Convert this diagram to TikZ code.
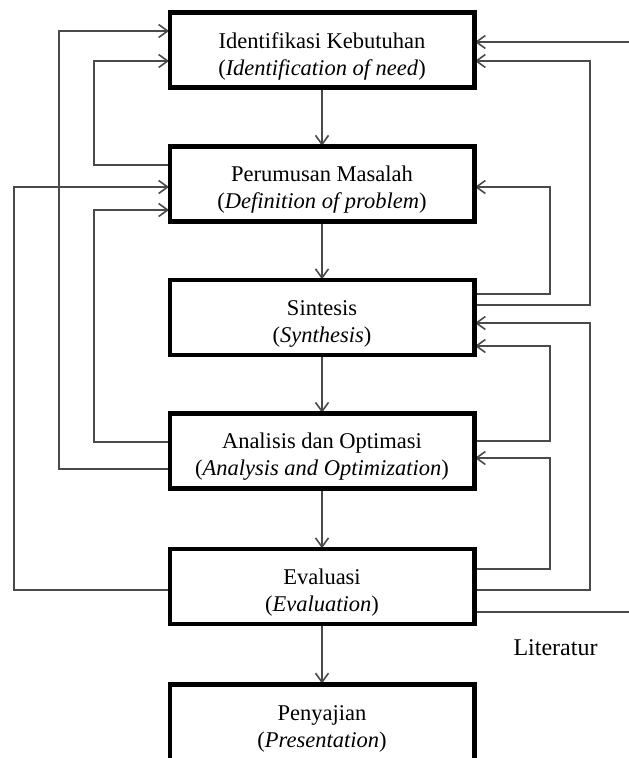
\documentclass[tikz,border=0pt]{standalone}
\usepackage{fontspec}
\setmainfont{Liberation Serif}
\usetikzlibrary{arrows.meta}
\definecolor{ln}{HTML}{4A4A4A}
\tikzset{
  box/.style={draw=black, line width=3pt, minimum width=303pt, minimum height=73.5pt,
    inner sep=0pt, fill=white},
  txt/.style={align=center, inner sep=0pt, font=\fontsize{22.5}{27}\selectfont},
  fb/.style={draw=ln, line width=1.7pt},
  fba/.style={fb, -{Straight Barb[length=9pt,width=13pt,line width=1.6pt]}},
}
\begin{document}
\begin{tikzpicture}[x=1pt,y=-1pt]
\useasboundingbox (0,0) rectangle (629,758);
\fill[white] (0,0) rectangle (629,758);
% boxes
\node[box] (b1) at (322,50) {};
\node[box] (b2) at (322,184) {};
\node[box] (b3) at (322,317.5) {};
\node[box] (b4) at (322,451) {};
\node[box] (b5) at (322,586.5) {};
\node[box, minimum height=80pt] (b6) at (322,725) {};
% straight flow
\draw[fba] (b1) -- (b2);
\draw[fba] (b2) -- (b3);
\draw[fba] (b3) -- (b4);
\draw[fba] (b4) -- (b5);
\draw[fba] (b5) -- (b6);
% left feedback
\draw[fba] (b4.west |- 0,469) -- (59,469) -- (59,31) -- (b1.west |- 0,31);
\draw[fba] (b2.west |- 0,165) -- (94,165) -- (94,61) -- (b1.west |- 0,61);
\draw[fba] (b5.west |- 0,590) -- (14,590) -- (14,187) -- (b2.west |- 0,187);
\draw[fba] (b4.west |- 0,442) -- (94,442) -- (94,210) -- (b2.west |- 0,210);
% right feedback
\coordinate (inR) at (631,42);
\coordinate (outR) at (631,612);
\draw[fba] (inR) -- (b1.east |- inR);
\draw[fba] (b3.east |- 0,305) -- (590,305) -- (590,61) -- (b1.east |- 0,61);
\draw[fba] (b3.east |- 0,294) -- (550,294) -- (550,187) -- (b2.east |- 0,187);
\draw[fba] (b5.east |- 0,590) -- (590,590) -- (590,323) -- (b3.east |- 0,323);
\draw[fba] (b4.east |- 0,441) -- (550,441) -- (550,346) -- (b3.east |- 0,346);
\draw[fba] (b5.east |- 0,569) -- (550,569) -- (550,458) -- (b4.east |- 0,458);
\draw[fb] (b5.east |- outR) -- (outR);
\node[font=\fontsize{24}{26}\selectfont, anchor=base, inner sep=0pt] (lit) at (555.5,655) {Literatur};
% redraw box borders on top
\foreach \b in {b1,b2,b3,b4,b5,b6} \draw[line width=3pt] (\b.north west) rectangle (\b.south east);
% box texts
\node[txt] (t1) at ([yshift=-6pt]b1.center) {Identifikasi Kebutuhan\\(\textit{Identification of need})};
\node[txt] (t2) at ([yshift=-6pt]b2.center) {Perumusan Masalah\\(\textit{Definition of problem})};
\node[txt] (t3) at ([yshift=-6pt]b3.center) {Sintesis\\(\textit{Synthesis})};
\node[txt] (t4) at ([yshift=-6pt]b4.center) {Analisis dan Optimasi\\(\textit{Analysis and Optimization})};
\node[txt] (t5) at ([yshift=-6pt]b5.center) {Evaluasi\\(\textit{Evaluation})};
\node[txt] (t6) at (b6.north |- 0,729) {Penyajian\\(\textit{Presentation})};
\end{tikzpicture}
\end{document}
